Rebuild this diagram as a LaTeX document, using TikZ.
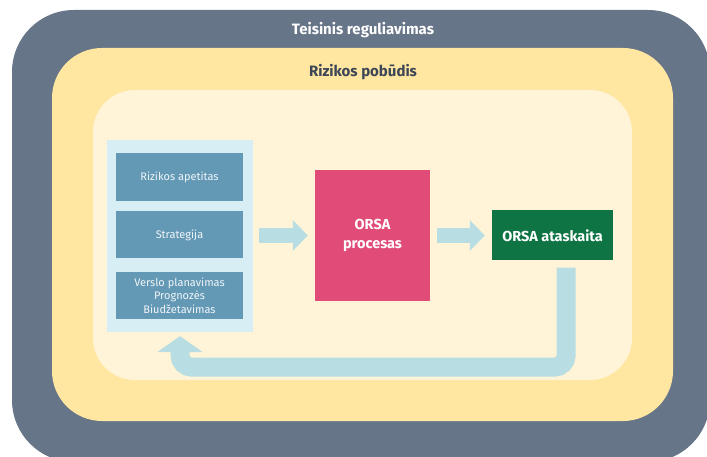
\documentclass[tikz,border=0pt]{standalone}
\usepackage{fontspec}
\setmainfont{Fira Sans}
\usetikzlibrary{positioning,arrows.meta,calc}
\definecolor{slate}{HTML}{677588}
\definecolor{sand}{HTML}{FFE6A1}
\definecolor{cream}{HTML}{FFF4D7}
\definecolor{panelblue}{HTML}{D7EEF4}
\definecolor{steel}{HTML}{6499B6}
\definecolor{aqua}{HTML}{B8DEE3}
\definecolor{rose}{HTML}{E14B77}
\definecolor{forest}{HTML}{0E7444}
\definecolor{ink}{HTML}{3C4656}

\begin{document}
\begin{tikzpicture}[
    x=1pt, y=-1pt,
    layer/.style={rectangle, rounded corners=#1, inner sep=0pt},
    title/.style={font=\fontsize{15}{17}\selectfont\bfseries},
    inputbox/.style={rectangle, fill=steel, text=white!90!steel, minimum width=127pt, minimum height=47pt, align=center, inner sep=0pt, font=\fontsize{11}{13.5}\selectfont},
    mainbox/.style={rectangle, text=white, align=center, inner sep=0pt, font=\fontsize{14.5}{19}\selectfont\bfseries},
    blockarrow/.style={draw=aqua, line width=15pt, -{Triangle[width=31pt,length=15pt,line width=0pt]}},
    returnarrow/.style={draw=aqua, line width=19pt, rounded corners=12pt, -{Triangle[width=46pt,length=16pt,line width=0pt]}}
]
\clip (0,0) rectangle (707,457);

% Layers
\node[layer=62pt, fill=slate, minimum width=698pt, minimum height=452pt] (legal) at (361,236) {};
\node[layer=50pt, fill=sand, minimum width=621pt, minimum height=373pt] (risk) at (362.5,234.5) {};
\node[layer=42pt, fill=cream, minimum width=539pt, minimum height=290pt] (inner) at (362.5,235) {};
\node[title, text=white] (legaltitle) at (363,30) {Teisinis reguliavimas};
\node[title, text=ink] (risktitle) at (363,72) {Rizikos pobūdis};

% Inputs
\node[rectangle, fill=panelblue, minimum width=146pt, minimum height=192pt, inner sep=0pt] (panel) at (180,236) {};
\node[inputbox, minimum height=48pt] (appetite) at (179.5,177) {Rizikos apetitas};
\node[inputbox, below=10pt of appetite] (strategy) {Strategija};
\node[inputbox, below=13pt of strategy] (planning) {Verslo planavimas\\Prognozės\\Biudžetavimas};

% ORSA
\node[mainbox, fill=rose, minimum width=115pt, minimum height=130pt] (orsa) at (372.5,235.5) {ORSA\\procesas};
\node[mainbox, fill=forest, minimum width=121pt, minimum height=50pt] (report) at (552.5,235.5) {ORSA ataskaita};

% Arrows
\draw[blockarrow, shorten <=6pt, shorten >=7pt] (panel.east |- orsa.west) -- (orsa.west);
\draw[blockarrow, shorten <=7pt, shorten >=7pt] (orsa.east) -- (report.west);
\draw[returnarrow] ($(report.south east)+(-47,7)$) |- ($(panel.south)+(0,35)$) -- ($(panel.south)+(0,4)$);

\end{tikzpicture}
\end{document}
